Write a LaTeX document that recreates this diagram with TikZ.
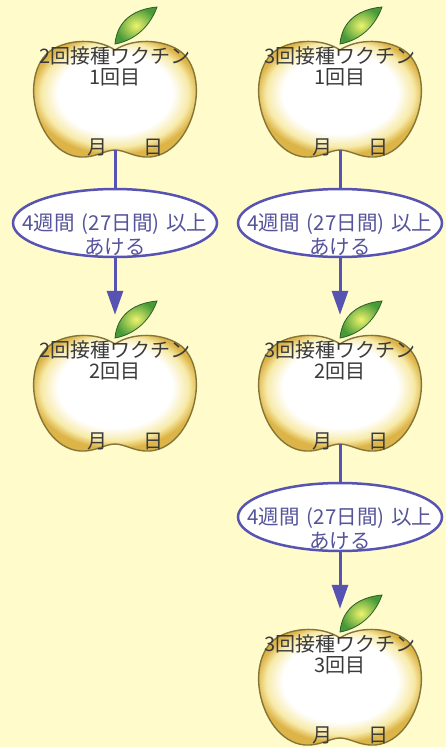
\documentclass[tikz,border=0pt]{standalone}
\usepackage{fontspec}
\setmainfont{Noto Sans CJK JP}
\usetikzlibrary{shapes.geometric,arrows.meta,positioning}

\definecolor{paper}{HTML}{FFFBCB}
\definecolor{appleGold}{HTML}{DDB447}
\definecolor{appleLight}{HTML}{F7EAA8}
\definecolor{appleRim}{HTML}{857638}
\definecolor{leafGreen}{HTML}{469A38}
\definecolor{leafYellow}{HTML}{EEF36E}
\definecolor{leafRim}{HTML}{2F5E25}
\definecolor{linkBlue}{HTML}{5753B2}
\definecolor{gapText}{HTML}{55549A}
\definecolor{ink}{HTML}{3A3A3A}

% white middle, golden edge
\pgfdeclareradialshading{applefill}{\pgfpoint{0bp}{3bp}}{%
  color(0bp)=(white); color(17bp)=(white); color(22bp)=(appleLight);
  color(25bp)=(appleGold); color(50bp)=(appleGold)}

\newcommand\gapnote{4週間\hspace{7pt}(27日間)\hspace{7pt}以上\\あける}

\tikzset{
  applebox/.style={minimum width=160pt, minimum height=100pt, inner sep=0pt},
  appletext/.style={text=ink, font=\fontsize{20pt}{21pt}\selectfont, inner sep=0pt, align=center},
  gapbox/.style={ellipse, draw=linkBlue, line width=2.5pt, fill=white,
                 minimum width=204pt, minimum height=68pt, inner sep=0pt},
  gaptext/.style={text=gapText, font=\fontsize{20.5pt}{24pt}\selectfont, inner sep=0pt, align=center},
  link/.style={draw=linkBlue, line width=3pt},
  toapple/.style={link, -{Triangle[length=24pt,width=16pt]}, shorten >=29pt},
}

% apple with leaf, title and date fields
% #1 name, #2 x, #3 y, #4 vaccine, #5 dose
\newcommand\drawapple[5]{%
  \begin{scope}[shift={(#2,#3)}]
    \shadedraw[shading=applefill, draw=appleRim, line width=1.4pt]
      (0,-50) .. controls (15,-60) and (40,-62) .. (60,-52)
      .. controls (80,-42) and (84,-15) .. (80,5)
      .. controls (76,28) and (60,55) .. (35,57)
      .. controls (20,58) and (10,50) .. (0,50)
      .. controls (-10,50) and (-20,58) .. (-35,57)
      .. controls (-60,55) and (-76,28) .. (-80,5)
      .. controls (-84,-15) and (-80,-42) .. (-60,-52)
      .. controls (-40,-62) and (-15,-60) .. (0,-50) -- cycle;
    \shadedraw[inner color=leafYellow, outer color=leafGreen, draw=leafRim, line width=0.8pt]
      (0,-56) .. controls (2,-80) and (20,-91) .. (42,-93)
      .. controls (36,-76) and (22,-60) .. (0,-56) -- cycle;
  \end{scope}
  \node (#1) [applebox] at (#2,#3) {};
  \node (#1-title) [appletext] at (#2,#3-34) {#4\\#5};
  \node (#1-month) [appletext] at (#2-18,#3+47) {月};
  \node (#1-day) [appletext] at (#2+38,#3+47) {日};
}

\begin{document}
\begin{tikzpicture}[x=1pt,y=-1pt]
  \fill[paper] (0,0) rectangle (446,747);
  \useasboundingbox (0,0) rectangle (446,747);

  % two-dose schedule
  \drawapple{twoFirst}{115}{100}{2回接種ワクチン}{1回目}
  \drawapple{twoSecond}{115}{394}{2回接種ワクチン}{2回目}
  % three-dose schedule
  \drawapple{threeFirst}{340}{100}{3回接種ワクチン}{1回目}
  \drawapple{threeSecond}{340}{394}{3回接種ワクチン}{2回目}
  \drawapple{threeThird}{340}{688}{3回接種ワクチン}{3回目}

  \node (twoGap) [gapbox] at (115,223) {};
  \node (threeGapA) [gapbox] at (340,223) {};
  \node (threeGapB) [gapbox] at (340,517) {};
  \node (twoGap-text) [gaptext] at (115,235) {\gapnote};
  \node (threeGapA-text) [gaptext] at (340,235) {\gapnote};
  \node (threeGapB-text) [gaptext] at (340,529) {\gapnote};

  \draw[link] (twoFirst.south) -- (twoGap.north);
  \draw[toapple] (twoGap.south) -- (twoSecond.north);
  \draw[link] (threeFirst.south) -- (threeGapA.north);
  \draw[toapple] (threeGapA.south) -- (threeSecond.north);
  \draw[link] (threeSecond.south) -- (threeGapB.north);
  \draw[toapple] (threeGapB.south) -- (threeThird.north);
\end{tikzpicture}
\end{document}
